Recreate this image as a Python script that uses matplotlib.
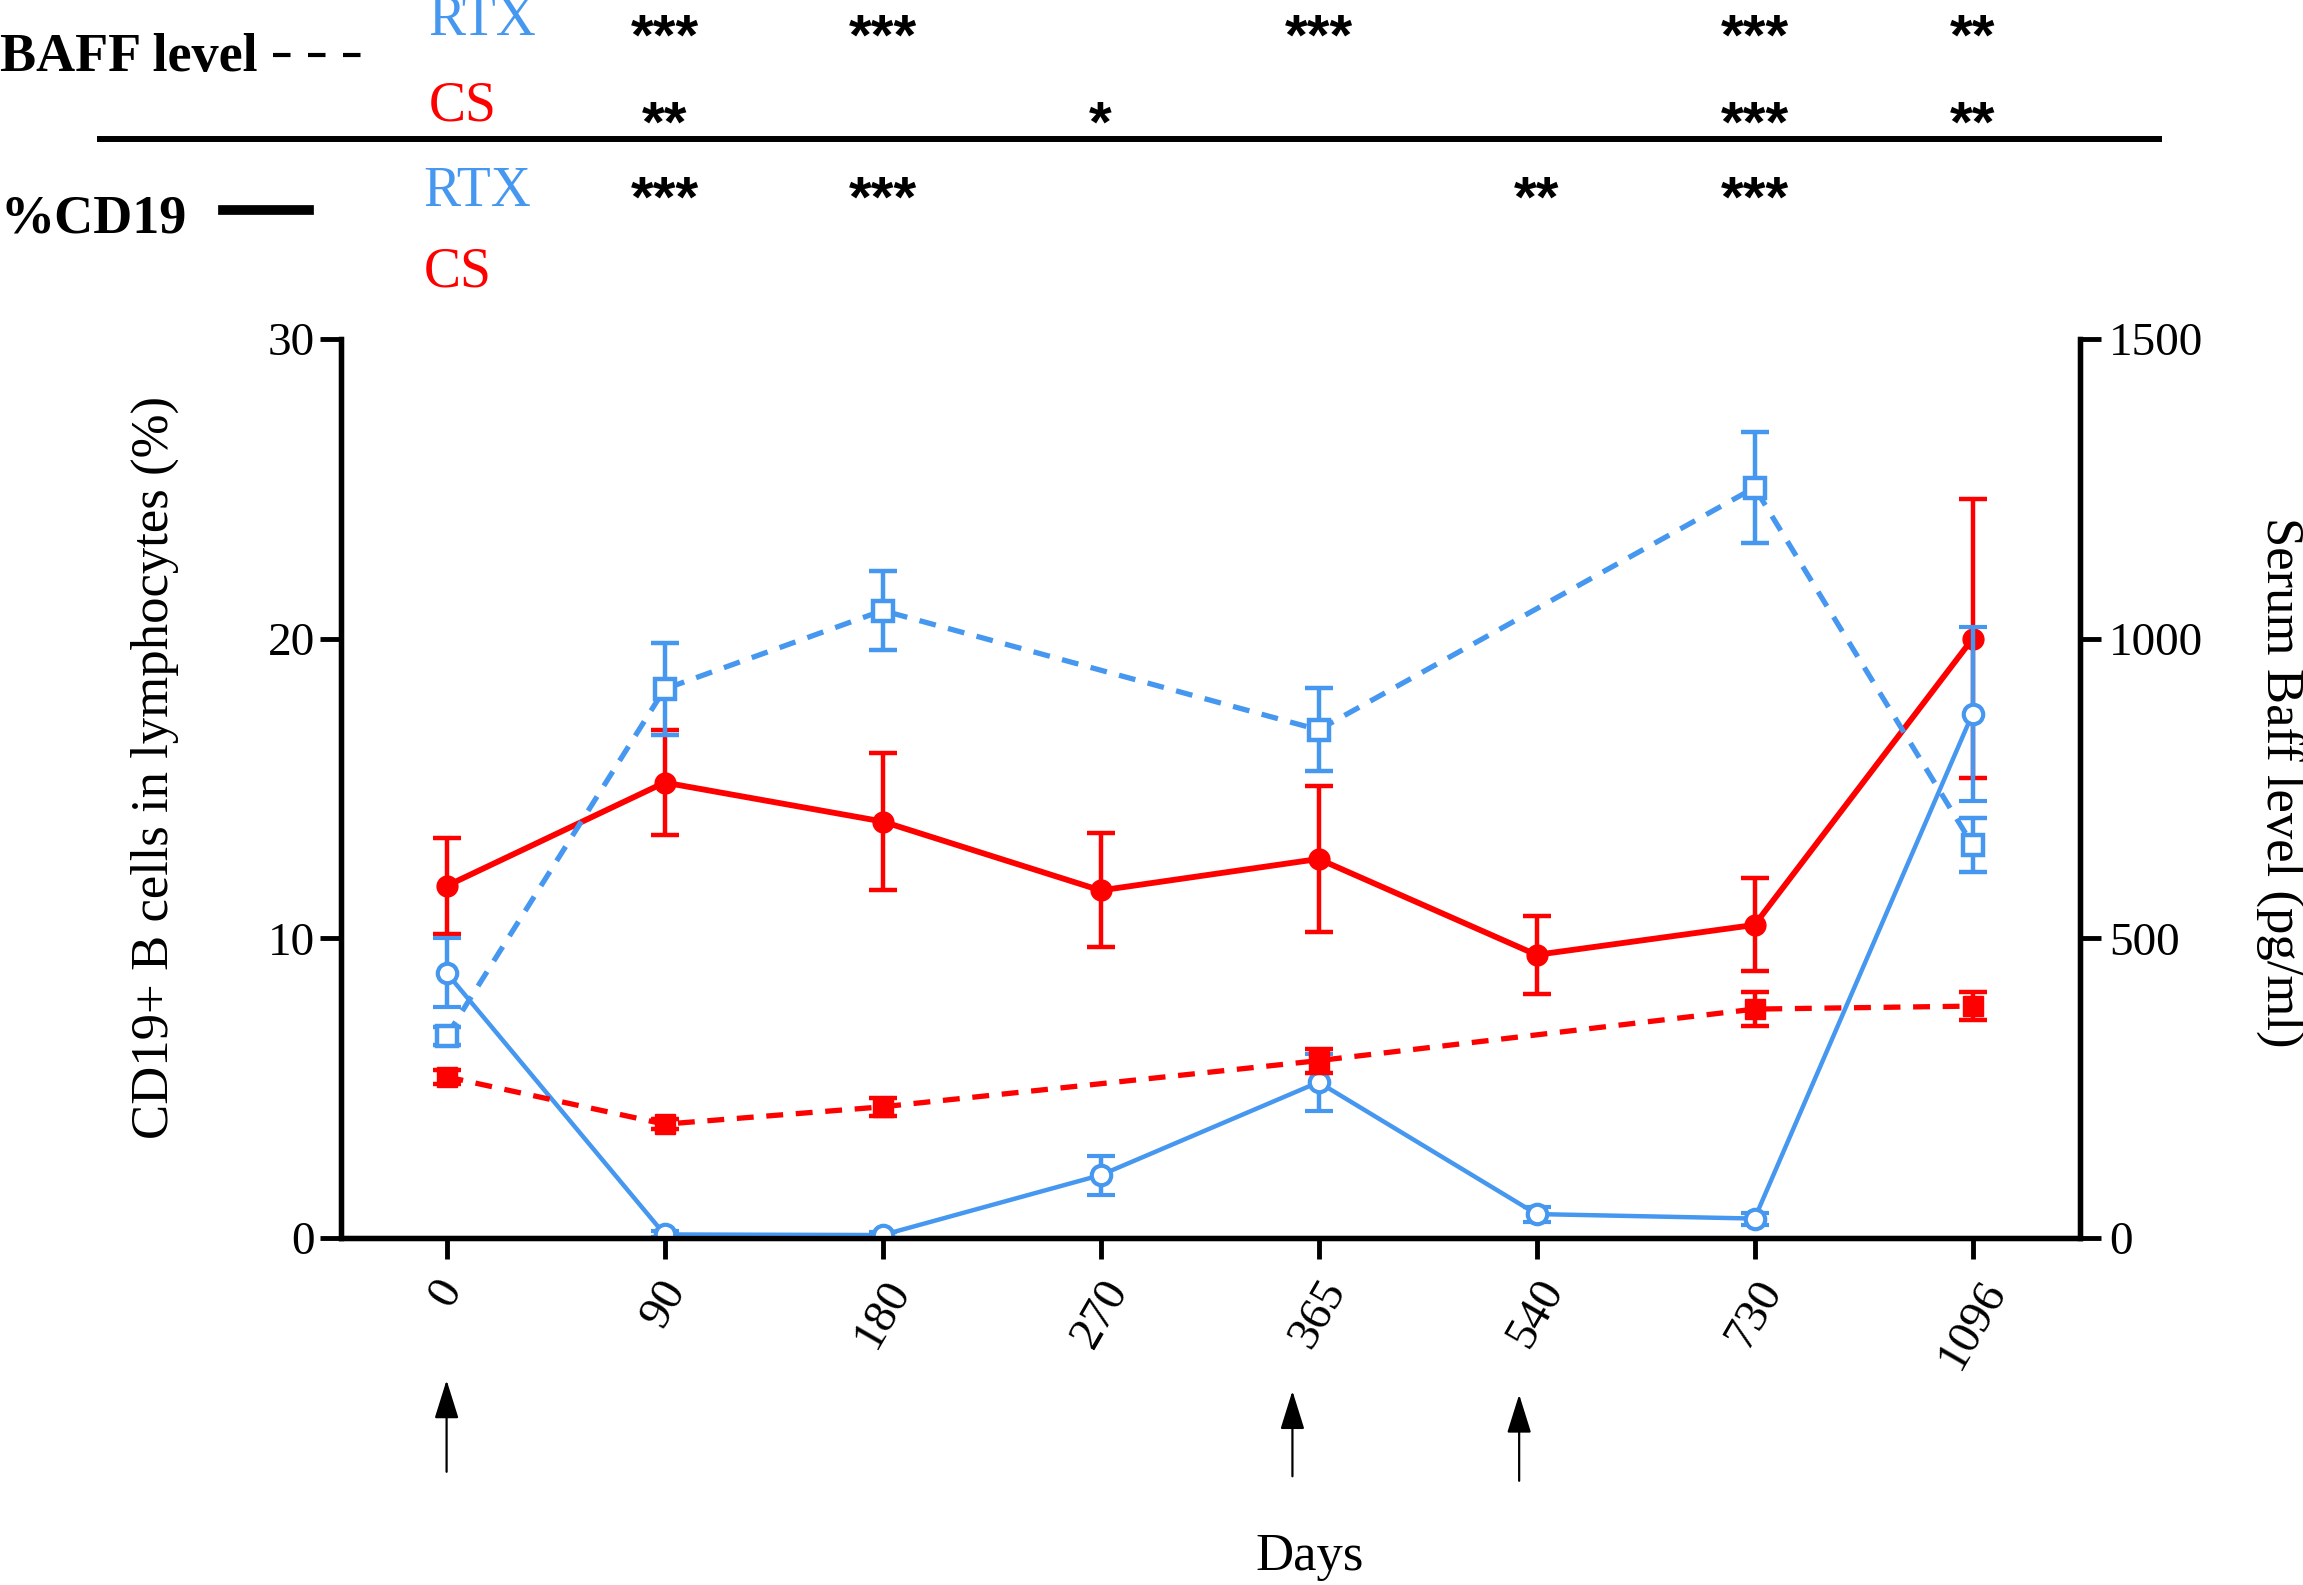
import matplotlib
matplotlib.use("Agg")
import matplotlib.pyplot as plt
import matplotlib.transforms as mtransforms
from matplotlib.lines import Line2D

plt.rcParams["font.family"] = ["Liberation Serif", "DejaVu Serif"]

# ---- data ----
DAYS = ["0", "90", "180", "270", "365", "540", "730", "1096"]

# %CD19+ B cells in lymphocytes (left axis)
CD19_RTX = [8.85, 0.12, 0.10, 2.10, 5.20, 0.80, 0.65, 17.5]
CD19_RTX_ERR = [1.15, 0.10, 0.10, 0.65, 0.95, 0.25, 0.20, 2.9]
CD19_CS = [11.75, 15.2, 13.9, 11.6, 12.65, 9.45, 10.45, 20.0]
CD19_CS_ERR = [1.60, 1.75, 2.30, 1.90, 2.45, 1.30, 1.55, 4.65]

# serum BAFF (right axis, pg/ml), measured on a subset of days
BAFF_DAYS = ["0", "90", "180", "365", "730", "1096"]
BAFF_RTX = [337, 916, 1047, 848, 1252, 656]
BAFF_RTX_ERR = [15, 77, 66, 69, 93, 45]
BAFF_CS = [269, 190, 219, 296, 382, 387]
BAFF_CS_ERR = [12, 8, 15, 20, 29, 24]

# significance marks
STAR_BAFF_RTX_DAYS = ["90", "180", "365", "730", "1096"]
STAR_BAFF_RTX = ["***", "***", "***", "***", "**"]
STAR_BAFF_CS_DAYS = ["90", "270", "730", "1096"]
STAR_BAFF_CS = ["**", "*", "***", "**"]
STAR_CD19_RTX_DAYS = ["90", "180", "540", "730"]
STAR_CD19_RTX = ["***", "***", "**", "***"]

ARROW_DAYS = ["0", "365", "540"]

BLUE = "#4597F0"
RED = "#FF0000"

pos = {d: i for i, d in enumerate(DAYS)}
x_all = list(range(len(DAYS)))
x_baff = [pos[d] for d in BAFF_DAYS]

fig = plt.figure(figsize=(23.03, 15.85), dpi=100)
ax = fig.add_axes([0.1481, 0.2189, 0.7551, 0.5672])
ax2 = ax.twinx()

dash = (0, (3.2, 2.4))
ax.errorbar(x_all, CD19_CS, yerr=CD19_CS_ERR, color=RED, lw=4.2, marker="o",
            ms=15, mfc=RED, mec=RED, elinewidth=3.2, capsize=10, capthick=3.2,
            zorder=3)
ax.errorbar(x_all, CD19_RTX, yerr=CD19_RTX_ERR, color=BLUE, lw=3.2, marker="o",
            ms=14, mfc="white", mec=BLUE, mew=3, elinewidth=3.2, capsize=10,
            capthick=3.2, zorder=4)

ax2.errorbar(x_baff, BAFF_CS, yerr=BAFF_CS_ERR, color=RED, lw=3.8, ls=dash,
             marker="s", ms=14, mfc=RED, mec=RED, elinewidth=3.2, capsize=10,
             capthick=3.2, zorder=3)
ax2.errorbar(x_baff, BAFF_RTX, yerr=BAFF_RTX_ERR, color=BLUE, lw=3.8, ls=dash,
             marker="s", ms=14, mfc="white", mec=BLUE, mew=3.2, elinewidth=3.2,
             capsize=10, capthick=3.2, zorder=4)

ax.set_xlim(-0.484, 7.493)
ax.set_ylim(0, 30)
ax2.set_ylim(0, 1500)
ax.set_yticks([0, 10, 20, 30])
ax2.set_yticks([0, 500, 1000, 1500])
ax.set_xticks(x_all)
ax.set_xticklabels(DAYS, rotation=60, ha="center", va="top")

for a in (ax, ax2):
    a.spines["top"].set_visible(False)
    for s in ("left", "right", "bottom"):
        a.spines[s].set_linewidth(3.8)
    a.tick_params(width=3.5, length=15, labelsize=34, direction="out")
ax.tick_params(axis="x", pad=10)
ax.tick_params(axis="y", pad=4)
ax2.tick_params(axis="y", pad=6)

ax.set_ylabel("CD19+ B cells in lymphocytes (%)", fontsize=38)
ax.yaxis.set_label_coords(-0.093, 0.523)
ax2.set_ylabel("Serum Baff level (pg/ml)", fontsize=38, rotation=-90,
               va="center")
ax2.yaxis.set_label_coords(1.115, 0.507)
ax.set_xlabel("Days", fontsize=38)
ax.xaxis.set_label_coords(0.557, -0.328)

# treatment arrows under the x axis
arrow_tr = mtransforms.blended_transform_factory(ax.transData, ax.transAxes)
arrow_shift = [0.0, -0.12, -0.08]
arrow_tip = [-0.158, -0.170, -0.174]
arrow_tail = [-0.260, -0.265, -0.270]
for d, dx, yt, yb in zip(ARROW_DAYS, arrow_shift, arrow_tip, arrow_tail):
    ax.annotate("", xy=(pos[d] + dx, yt), xytext=(pos[d] + dx, yb),
                xycoords=arrow_tr, textcoords=arrow_tr, annotation_clip=False,
                arrowprops=dict(arrowstyle="-|>,head_length=0.8,head_width=0.25",
                                lw=1.6, color="black", mutation_scale=30,
                                shrinkA=0, shrinkB=0))

# header with group labels and significance stars
star_tr = mtransforms.blended_transform_factory(ax.transData, fig.transFigure)
for days, marks, y in ((STAR_BAFF_RTX_DAYS, STAR_BAFF_RTX, 0.975),
                       (STAR_BAFF_CS_DAYS, STAR_BAFF_CS, 0.920),
                       (STAR_CD19_RTX_DAYS, STAR_CD19_RTX, 0.873)):
    for d, m in zip(days, marks):
        ax.text(pos[d], y, m, transform=star_tr, ha="center", va="center",
                fontsize=42, fontweight="bold", family="Liberation Sans",
                clip_on=False)

fig.text(0.0, 0.9555, "BAFF level", fontsize=39, fontweight="bold",
         ha="left", va="baseline")
fig.add_artist(Line2D([0.1185, 0.1594], [0.9655, 0.9655], lw=3,
                      ls=(0, (4.2, 4.2)), color="black",
                      transform=fig.transFigure))
fig.text(0.186, 0.978, "RTX", fontsize=40, color=BLUE, ha="left", va="baseline")
fig.text(0.186, 0.924, "CS", fontsize=40, color=RED, ha="left", va="baseline")
fig.add_artist(Line2D([0.0434, 0.9375], [0.912, 0.912], lw=4.3, color="black",
                      transform=fig.transFigure))
fig.text(0.0, 0.8536, "%CD19", fontsize=39, fontweight="bold",
         ha="left", va="baseline")
fig.add_artist(Line2D([0.097, 0.134], [0.8675, 0.8675], lw=7, color="black",
                      transform=fig.transFigure))
fig.text(0.184, 0.870, "RTX", fontsize=40, color=BLUE, ha="left", va="baseline")
fig.text(0.184, 0.819, "CS", fontsize=40, color=RED, ha="left", va="baseline")

fig.savefig("out.png", dpi=100)
